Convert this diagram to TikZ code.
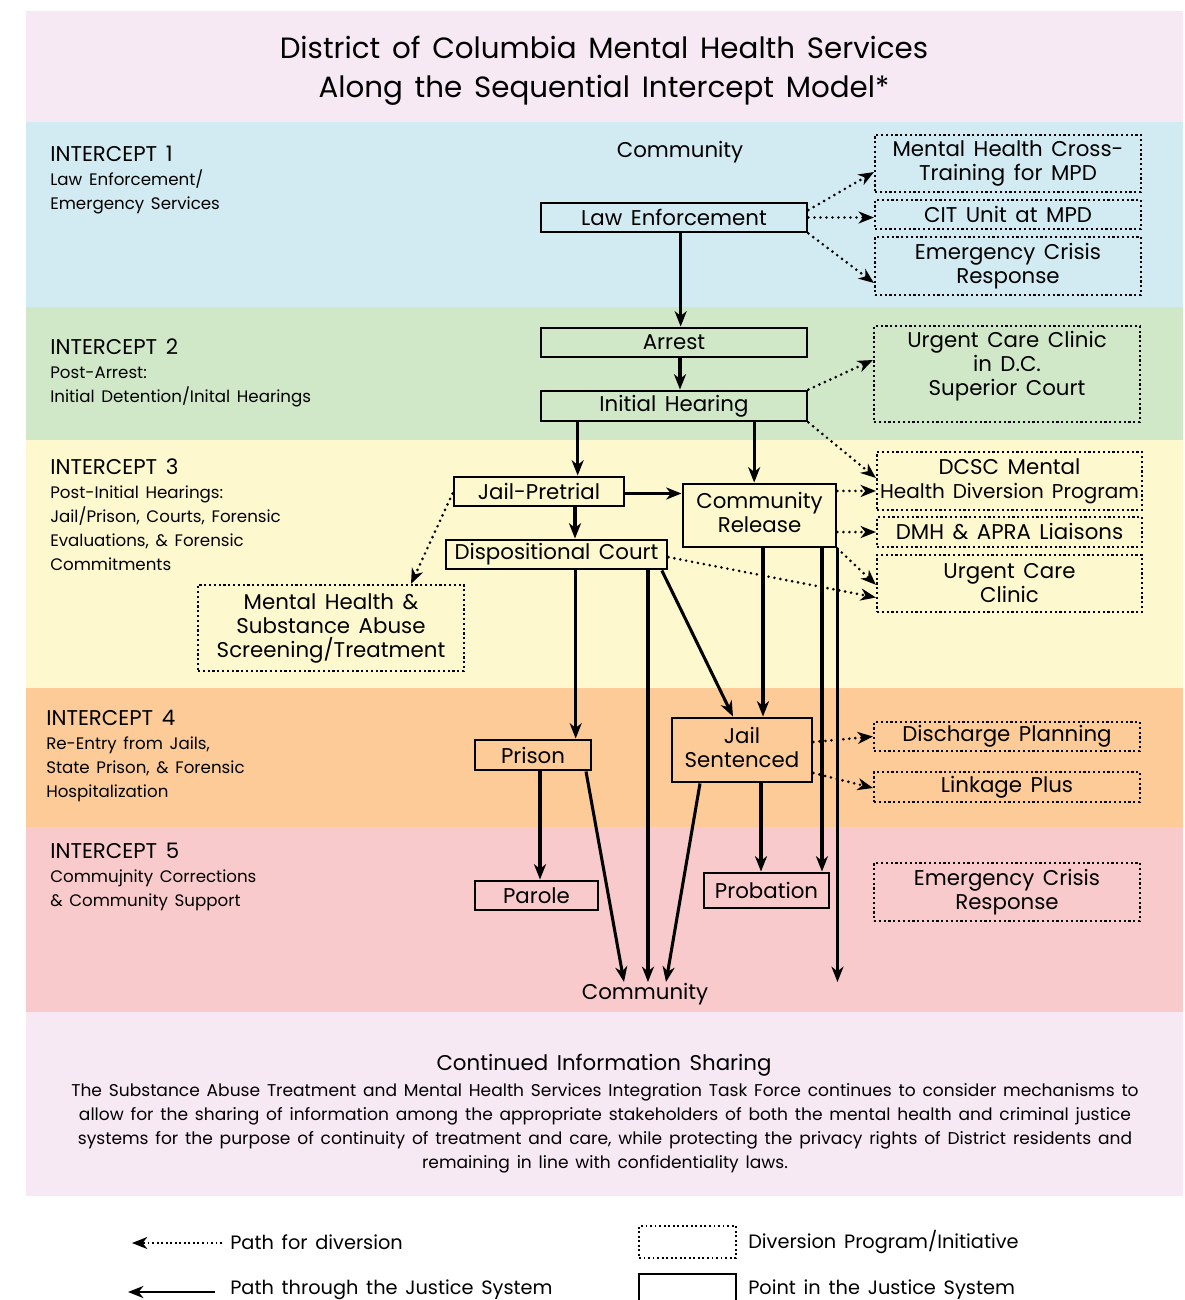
\documentclass[tikz,border=0pt]{standalone}
\usepackage{fontspec}
\setmainfont{Poppins}[WordSpace={1.5}]
\usetikzlibrary{arrows.meta,calc}
\definecolor{cpink}{HTML}{F6E9F3}
\definecolor{cblue}{HTML}{D2EBF3}
\definecolor{cgreen}{HTML}{D1E8C8}
\definecolor{cyellow}{HTML}{FDF8CD}
\definecolor{corange}{HTML}{FDCB98}
\definecolor{cred}{HTML}{F9CACB}
\newcommand\fsBox{\fontsize{16}{18}\selectfont}
\newcommand\fsSub{\fontsize{12.5}{18}\selectfont}
\newcommand\fsTitle{\fontsize{22}{29}\selectfont}
\newcommand\fsPara{\fontsize{12.8}{18}\selectfont}
\newcommand\fsLeg{\fontsize{14.5}{18}\selectfont}
\begin{document}
\begin{tikzpicture}[x=0.75pt,y=-0.75pt,
  tip/.style={-{Stealth[length=11.5pt,width=9pt,inset=3.5pt]}},
  sbox/.style={draw, line width=2.2pt, inner sep=0pt, align=center, font=\fsBox},
  dbox/.style={draw, line width=1.6pt, dotted, inner sep=0pt, align=center, font=\fsBox},
  sarr/.style={line width=2.3pt, tip},
  darr/.style={line width=2.2pt, dash pattern=on 0pt off 4.5pt, line cap=round, tip},
  lbl/.style={anchor=base west, inner sep=0pt, font=\fsBox},
  sublbl/.style={anchor=base west, inner sep=0pt, font=\fsSub}]
\clip (0,0) rectangle (1185,1300);
\fill[white] (0,0) rectangle (1185,1300);
% bands
\fill[cpink] (26,11) rectangle (1183,122);
\fill[cblue] (26,122) rectangle (1183,307);
\fill[cgreen] (26,307) rectangle (1183,440);
\fill[cyellow] (26,440) rectangle (1183,688);
\fill[corange] (26,688) rectangle (1183,827);
\fill[cred] (26,827) rectangle (1183,1012);
\fill[cpink] (26,1012) rectangle (1183,1196);
% title
\node[align=center, font=\fsTitle] (title) at (604,71) {District of Columbia Mental Health Services\\Along the Sequential Intercept Model*};
% intercept labels
\node[lbl] (i1) at (50,161) {INTERCEPT 1};
\node[sublbl] (i1a) at (50,185) {Law Enforcement/};
\node[sublbl] (i1b) at (50,209) {Emergency Services};
\node[lbl] (i2) at (50,354) {INTERCEPT 2};
\node[sublbl] (i2a) at (50,378) {Post-Arrest:};
\node[sublbl] (i2b) at (50,402) {Initial Detention/Inital Hearings};
\node[lbl] (i3) at (50,474) {INTERCEPT 3};
\node[sublbl] (i3a) at (50,498) {Post-Initial Hearings:};
\node[sublbl] (i3b) at (50,522) {Jail/Prison, Courts, Forensic};
\node[sublbl] (i3c) at (50,546) {Evaluations, \& Forensic};
\node[sublbl] (i3d) at (50,570) {Commitments};
\node[lbl] (i4) at (46,725) {INTERCEPT 4};
\node[sublbl] (i4a) at (46,749) {Re-Entry from Jails,};
\node[sublbl] (i4b) at (46,773) {State Prison, \& Forensic};
\node[sublbl] (i4c) at (46,797) {Hospitalization};
\node[lbl] (i5) at (50,858) {INTERCEPT 5};
\node[sublbl] (i5a) at (50,882) {Commujnity Corrections};
\node[sublbl] (i5b) at (50,906) {\& Community Support};
% community labels
\node[font=\fsBox, inner sep=0pt] (comm1) at (680,152) {Community};
\node[font=\fsBox, inner sep=1pt, anchor=north] (comm2) at (645,982) {Community};
% solid boxes
\node[sbox, minimum width=199.5pt, minimum height=21.75pt] (law) at (674,217.5) {Law Enforcement};
\node[sbox, minimum width=199.5pt, minimum height=21.75pt] (arrest) at (674,342.5) {Arrest};
\node[sbox, minimum width=199.5pt, minimum height=22.5pt] (hearing) at (674,406) {Initial Hearing};
\node[sbox, minimum width=127.5pt, minimum height=21.75pt] (jailp) at (539,491.5) {Jail-Pretrial};
\node[sbox, minimum width=114.75pt, minimum height=47.25pt] (crel) at (759.5,515.5) {Community\\Release\\[-13.5pt]};
\node[sbox, minimum width=165.75pt, minimum height=21.75pt] (disp) at (556.5,554.5) {Dispositional Court};
\node[sbox, minimum width=87pt, minimum height=22.5pt] (prison) at (533,755) {Prison};
\node[sbox, minimum width=105pt, minimum height=48pt] (jails) at (742,750) {Jail\\Sentenced\\[-13.5pt]};
\node[sbox, minimum width=92.25pt, minimum height=21.75pt] (parole) at (536.5,895.5) {Parole};
\node[sbox, minimum width=93.75pt, minimum height=26.25pt] (probation) at (766.5,890.5) {Probation};
% dotted boxes
\node[dbox, minimum width=199.5pt, minimum height=42.75pt] (d1) at (1008,163.5) {Mental Health Cross-\\Training for MPD};
\node[dbox, minimum width=199.5pt, minimum height=21.75pt] (d2) at (1008,214.5) {CIT Unit at MPD};
\node[dbox, minimum width=199.5pt, minimum height=43.5pt] (d3) at (1008,266) {Emergency Crisis\\Response};
\node[dbox, minimum width=199.5pt, minimum height=72pt] (d4) at (1007,374) {};
\node[align=center, font=\fsBox, inner sep=0pt] (d4t) at (1007,366) {Urgent Care Clinic\\in D.C.\\Superior Court};
\node[dbox, minimum width=198.75pt, minimum height=43.5pt] (d5) at (1009.5,481) {DCSC Mental\\{\fontsize{15}{18}\selectfont Health Diversion Program}};
\node[dbox, minimum width=198.75pt, minimum height=22.5pt] (d6) at (1009.5,532) {DMH \& APRA Liaisons};
\node[dbox, minimum width=198.75pt, minimum height=42.75pt] (d7) at (1009.5,583.5) {Urgent Care\\Clinic};
\node[dbox, minimum width=199.5pt, minimum height=64.5pt] (d8) at (331,628) {Mental Health \&\\Substance Abuse\\Screening/Treatment};
\node[dbox, minimum width=199.5pt, minimum height=21.75pt] (d9) at (1007,736.5) {Discharge Planning};
\node[dbox, minimum width=199.5pt, minimum height=22.5pt] (d10) at (1007,787) {Linkage Plus};
\node[dbox, minimum width=199.5pt, minimum height=43.5pt] (d11) at (1007,892) {Emergency Crisis\\Response};
% solid arrows
\draw[sarr] ([xshift=5pt]law.south) -- ([xshift=5pt]arrest.north);
\draw[sarr] ([xshift=4.5pt]arrest.south) -- ([xshift=4.5pt]hearing.north);
\draw[sarr] ([xshift=29pt]jailp.north |- hearing.south) -- ([xshift=29pt]jailp.north);
\draw[sarr] ([xshift=-4pt]crel.north |- hearing.south) -- ([xshift=-4pt]crel.north);
\draw[sarr] ([yshift=-1.5pt]jailp.east) -- ([yshift=-1.5pt]jailp.east -| crel.west);
\draw[sarr] ([xshift=27pt]jailp.south) -- ([xshift=27pt]jailp.south |- disp.north);
\draw[sarr] ([xshift=32pt]prison.north |- disp.south) -- ([xshift=32pt]prison.north);
\draw[sarr] ([xshift=68.6pt]disp.south) -- ([xshift=68.6pt]disp.south |- comm2.north);
\draw[sarr] ([xshift=79pt]disp.south) -- ([xshift=-6.75pt]jails.north);
\draw[sarr] ([xshift=15.75pt]jails.north |- crel.south) -- ([xshift=15.75pt]jails.north);
\draw[sarr] ([xshift=41.6pt]probation.north |- crel.south) -- ([xshift=41.6pt]probation.north);
\draw[sarr] (crel.south east) -- (crel.south east |- comm2.north);
\draw[sarr] ([xshift=5.25pt]prison.south) -- ([xshift=5.25pt]prison.south |- parole.north);
\draw[sarr] ([xshift=39.75pt]prison.south) -- ([xshift=-15.75pt]comm2.north);
\draw[sarr] ([xshift=-31.5pt]jails.south) -- ([xshift=15.75pt]comm2.north);
\draw[sarr] ([xshift=14.25pt]jails.south) -- ([xshift=14.25pt]jails.south |- probation.north);
% dotted arrows
\draw[darr] ([yshift=5.6pt]law.east) -- ([yshift=-6.4pt]d1.west);
\draw[darr] (law.east) -- (law.east -| d2.west);
\draw[darr] (law.south east) -- ([yshift=-12.75pt]d3.west);
\draw[darr] (hearing.north east) -- ([yshift=10.5pt]d4.west);
\draw[darr] (hearing.south east) -- ([yshift=2.25pt]d5.west);
\draw[darr] ([yshift=18.4pt]crel.east) -- ([yshift=18.4pt]crel.east -| d5.west);
\draw[darr] ([yshift=-12.4pt]crel.east) -- ([yshift=-12.4pt]crel.east -| d6.west);
\draw[darr] (crel.south east) -- ([yshift=-1pt]d7.west);
\draw[darr] ([yshift=-2pt]disp.east) -- ([yshift=-10.5pt]d7.west);
\draw[darr] ([yshift=-1.5pt]jailp.west) -- ([xshift=60pt]d8.north);
\draw[darr] ([yshift=6pt]jails.east) -- (d9.west);
\draw[darr] ([yshift=-17.25pt]jails.east) -- ([yshift=-0.75pt]d10.west);
% bottom text
\node[font=\fsBox] (cis) at (604,1065) {Continued Information Sharing};
\node[font=\fsPara, align=center, anchor=north] (para) at (605,1079) {The Substance Abuse Treatment and Mental Health Services Integration Task Force continues to consider mechanisms to\\allow for the sharing of information among the appropriate stakeholders of both the mental health and criminal justice\\systems for the purpose of continuity of treatment and care, while protecting the privacy rights of District residents and\\remaining in line with confidentiality laws.};
% legend
\coordinate (la1) at (222,1243);
\coordinate (la2) at (132,1243);
\draw[line width=1.4pt, dotted, tip] (la1) -- (la2);
\node[anchor=west, font=\fsLeg, inner sep=0pt] (lt1) at (230,1242) {Path for diversion};
\coordinate (lb1) at (215,1292);
\coordinate (lb2) at (128,1292);
\draw[line width=2.2pt, tip] (lb1) -- (lb2);
\node[anchor=west, font=\fsLeg, inner sep=0pt] (lt2) at (230,1290) {Path through the Justice System};
\node[draw, line width=1.4pt, dotted, minimum width=72.75pt, minimum height=24pt, inner sep=0pt] (lgd) at (687.5,1242) {};
\node[anchor=west, font=\fsLeg, inner sep=0pt] (lt3) at (748,1242) {Diversion Program/Initiative};
\node[draw, line width=1pt, minimum width=72.75pt, minimum height=27pt, inner sep=0pt] (lgs) at (687.5,1292) {};
\node[anchor=west, font=\fsLeg, inner sep=0pt] (lt4) at (748,1290) {Point in the Justice System};
\end{tikzpicture}
\end{document}
